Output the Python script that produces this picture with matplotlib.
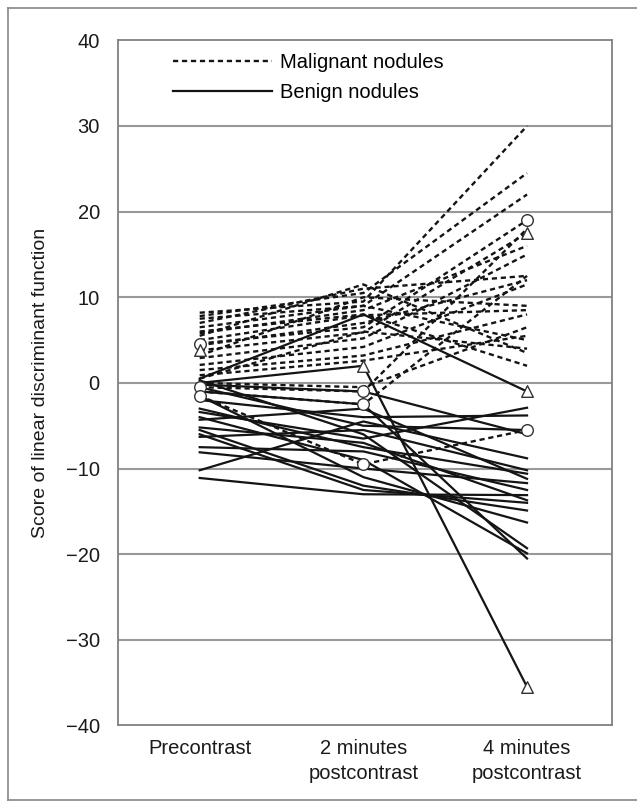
import matplotlib.pyplot as plt
from matplotlib.lines import Line2D
import numpy as np

plt.rcParams['font.family'] = ['Liberation Sans', 'DejaVu Sans']

categories = ['Precontrast', '2 minutes\npostcontrast', '4 minutes\npostcontrast']

# score per nodule: (precontrast, 2 min, 4 min)
malignant = [
    [8.2, 9.5, 30.0],
    [7.8, 10.5, 24.5],
    [7.0, 11.0, 12.5],
    [6.5, 9.0, 22.0],
    [5.8, 8.5, 16.0],
    [5.0, 7.9, 8.5],
    [4.6, 6.5, 19.0],
    [4.4, 7.0, 12.0],
    [3.8, 5.9, 17.5],
    [3.2, 10.0, 9.0],
    [2.9, 5.2, 15.0],
    [2.1, 4.2, 11.5],
    [1.5, 3.2, 8.0],
    [0.9, 2.6, 5.5],
    [0.5, 6.0, 4.0],
    [0.0, -0.5, 6.5],
    [-0.5, -1.0, 18.0],
    [-1.0, -2.5, 12.5],
    [-1.5, -9.5, -5.5],
    [5.5, 11.5, 3.5],
    [7.5, 9.0, 5.0],
    [6.0, 8.0, 2.0],
]

benign = [
    [0.5, 8.0, -1.0],
    [0.0, 2.0, -35.5],
    [-0.5, -5.0, -5.5],
    [-1.0, -2.5, -20.5],
    [0.3, -6.0, -19.3],
    [-1.5, -11.0, -16.3],
    [-2.0, -4.0, -3.8],
    [-3.4, -6.5, -2.9],
    [-4.0, -9.0, -19.9],
    [-4.3, -3.0, -11.2],
    [-5.2, -7.0, -13.7],
    [-5.5, -12.0, -14.9],
    [-6.3, -5.5, -10.2],
    [-7.5, -8.0, -12.5],
    [-8.1, -10.0, -11.7],
    [-10.2, -4.5, -8.8],
    [-11.1, -13.0, -13.1],
    [-3.0, -7.5, -10.6],
    [-6.0, -12.5, -14.0],
    [-0.2, -1.0, -6.0],
]

# marked nodules
circle_x = [0, 0, 0, 1, 1, 1, 2, 2]
circle_y = [4.6, -0.5, -1.5, -1.0, -2.5, -9.5, 19.0, -5.5]
tri_x = [0, 1, 2, 2, 2]
tri_y = [3.8, 2.0, 17.5, -1.0, -35.5]

fig = plt.figure(figsize=(6.37, 8.07), dpi=100)
ax = fig.add_axes([0.185, 0.101, 0.776, 0.849])

# page frame around the figure
frame = dict(color='#888888', lw=1.2, transform=fig.transFigure)
fig.add_artist(Line2D([8/637, 1.0], [1-8/807, 1-8/807], **frame))
fig.add_artist(Line2D([8/637, 8/637], [1-8/807, 1-800/807], **frame))
fig.add_artist(Line2D([8/637, 1.0], [1-800/807, 1-800/807], **frame))

x = np.arange(len(categories))
dash = (0, (2.2, 1.6))
for row in malignant:
    ax.plot(x, row, color='#141414', lw=1.7, linestyle=dash, zorder=3)
for row in benign:
    ax.plot(x, row, color='#141414', lw=1.6, zorder=3)

ax.scatter(circle_x, circle_y, s=70, facecolors='white', edgecolors='#333333',
           linewidths=1.0, zorder=4)
ax.scatter(tri_x, tri_y, s=70, marker='^', facecolors='white',
           edgecolors='#333333', linewidths=1.0, zorder=4)

for v in range(-30, 40, 10):
    ax.axhline(v, color='#999999', lw=1.5, zorder=1)

ax.set_ylim(-40, 40)
ax.set_xlim(-0.5, 2.52)
ax.set_yticks(range(-40, 41, 10))
ax.set_yticklabels([str(v).replace('-', '\u2212') for v in range(-40, 41, 10)])
ax.set_xticks(x)
ax.set_xticklabels(categories, linespacing=1.35)
ax.tick_params(length=0, labelsize=14.5, colors='#1a1a1a')
ax.tick_params(axis='y', pad=13)
ax.tick_params(axis='x', pad=10)
for s in ax.spines.values():
    s.set_color('#808080')
    s.set_linewidth(1.3)

ax.set_ylabel('Score of linear discriminant function', fontsize=14,
              color='#1a1a1a', labelpad=12)

handles = [Line2D([], [], color='#141414', lw=1.7, linestyle=dash),
           Line2D([], [], color='#141414', lw=1.6)]
ax.legend(handles, ['Malignant nodules', 'Benign nodules'], loc='upper left',
          bbox_to_anchor=(0.075, 1.008), frameon=False, handlelength=4.9,
          fontsize=14.5, handletextpad=0.4, labelspacing=0.55)

fig.savefig('out.png', dpi=100)
